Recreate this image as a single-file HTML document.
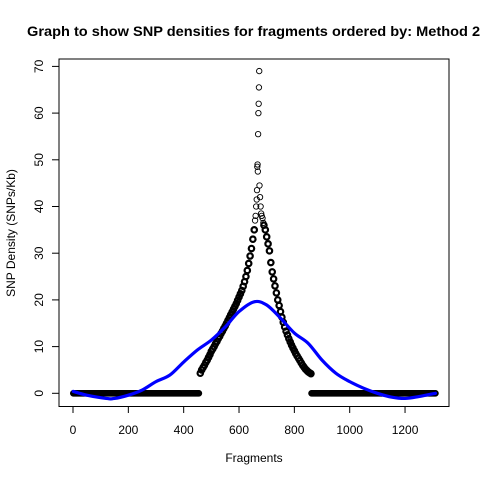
<!DOCTYPE html>
<html><head><meta charset="utf-8"><style>
html,body{margin:0;padding:0;background:#fff;}
svg{display:block;font-family:"Liberation Sans",Arial,sans-serif;}
</style></head><body>
<svg id="chart" width="480" height="480" viewBox="0 0 480 480" xmlns="http://www.w3.org/2000/svg">
<rect x="0" y="0" width="480" height="480" fill="#fff"/>
<text x="27" y="36" font-size="14" font-weight="bold" text-anchor="start" textLength="462" lengthAdjust="spacingAndGlyphs">Graph to show SNP densities for fragments ordered by: Method 2b</text>
<rect x="59" y="59" width="390" height="347.5" fill="none" stroke="#000" stroke-width="1"/>
<text x="254" y="462" font-size="12" text-anchor="middle">Fragments</text>
<text transform="translate(15,233) rotate(-90)" font-size="12" text-anchor="middle">SNP Density (SNPs/Kb)</text>
<g id="axes"></g>
<g id="points"></g>
<g id="curve"></g>
</svg>
<script>
// x tick labels
const xTicks = [0, 200, 400, 600, 800, 1000, 1200];
// y tick labels
const yTicks = [0, 10, 20, 30, 40, 50, 60, 70];
// zero-density fragment ranges [start, end]
const zeroRanges = [[1, 455], [862, 1310]];
// left branch: fragments starting at 460, step 5
const leftStart = 460;
const leftValues = [4.3,5,5.5,6,6.6,7.1,7.7,8.3,9,9.5,10,10.6,11.1,11.7,12.2,12.8,13.3,13.9,14.4,15,15.6,16.2,16.8,17.4,18,18.6,19.2,19.9,20.6,21.3,22,22.9,23.9,25,26.3,27.8,29.4,31,33,35];
// peak cluster fragments and values
const peakFragments = [658,660,662,664,665,666,667,668,669,670,671,672,673,674,676,678,680,682,685,688];
const peakValues = [37,38,40,41.5,43.5,48.5,49,47.5,55.5,60,62,65.5,69,44.5,42,40,38.5,38,37.5,36.5];
// right branch: fragments starting at 690, step 5
const rightStart = 690;
const rightValues = [36,35,33.5,32,30.5,28,26,24.5,23,21.5,20,18.8,17.5,16.3,15.2,14.2,13.3,12.5,11.7,11,10.3,9.7,9.1,8.5,8,7.5,7,6.5,6,5.6,5.2,4.9,4.6,4.4,4.2];
// smoothed (blue) curve
const smoothX = [1,50,120,150,200,250,300,350,400,450,500,550,600,655,700,750,800,850,900,950,1000,1050,1100,1150,1200,1250,1310];
const smoothY = [0.4,-0.4,-1.1,-1.1,-0.4,0.7,2.5,3.9,6.7,9.3,11.4,14.2,17.5,19.6,18.9,16.1,12.9,10.7,7.1,4.3,2.5,1.1,0,-0.8,-1.1,-0.7,0];

const NS = "http://www.w3.org/2000/svg";
function sx(v){ return 73 + v * 0.2767; }
function sy(v){ return 393.3 - v * 4.67; }

const axes = document.getElementById('axes');
function mk(tag, attrs, parent){
  const e = document.createElementNS(NS, tag);
  for (const k in attrs) e.setAttribute(k, attrs[k]);
  parent.appendChild(e);
  return e;
}
const xl = mk('line', {x1: sx(xTicks[0]), x2: sx(xTicks[xTicks.length-1]), y1: 406.5, y2: 406.5, stroke: '#000'}, axes);


xTicks.forEach(t => {
  const tk = mk('line', {x1: sx(t), x2: sx(t), y1: 406.5, y2: 413, stroke: '#000'}, axes);
  
  
  const lb = mk('text', {x: sx(t), y: 434, 'font-size': 12, 'text-anchor': 'middle'}, axes);
  lb.textContent = t;
  
  
});
const yl = mk('line', {x1: 59, x2: 59, y1: sy(yTicks[0]), y2: sy(yTicks[yTicks.length-1]), stroke: '#000'}, axes);


yTicks.forEach(t => {
  const tk = mk('line', {x1: 52, x2: 59, y1: sy(t), y2: sy(t), stroke: '#000'}, axes);
  
  
  const lb = mk('text', {transform: 'translate(43,' + sy(t) + ') rotate(-90)', 'font-size': 12, 'text-anchor': 'middle'}, axes);
  lb.textContent = t;
  
  
});

const pts = document.getElementById('points');
function pt(x, v, sw){
  const c = mk('circle', {cx: sx(x), cy: sy(v), r: 2.7, fill: 'none', stroke: '#000', 'stroke-width': sw}, pts);
  
  
}
zeroRanges.forEach(r => { for (let f = r[0]; f <= r[1]; f += 2) pt(f, 0, 1.2); });
leftValues.forEach((v, i) => pt(leftStart + i * 5, v, 2.2));
peakValues.forEach((v, i) => pt(peakFragments[i], v, 0.9));
rightValues.forEach((v, i) => pt(rightStart + i * 5, v, 2.2));

const P = smoothX.map((x, i) => [sx(x), sy(smoothY[i])]);
let d = 'M' + P[0][0] + ' ' + P[0][1];
for (let i = 0; i < P.length - 1; i++){
  const p0 = P[Math.max(0, i-1)], p1 = P[i], p2 = P[i+1], p3 = P[Math.min(P.length-1, i+2)];
  const c1 = [p1[0] + (p2[0]-p0[0])/6, p1[1] + (p2[1]-p0[1])/6];
  const c2 = [p2[0] - (p3[0]-p1[0])/6, p2[1] - (p3[1]-p1[1])/6];
  d += ' C' + c1[0] + ' ' + c1[1] + ',' + c2[0] + ' ' + c2[1] + ',' + p2[0] + ' ' + p2[1];
}
const path = mk('path', {d: d, fill: 'none', stroke: '#0000ff', 'stroke-width': 3.2, 'stroke-linecap': 'round'}, document.getElementById('curve'));


</script>
</body></html>
